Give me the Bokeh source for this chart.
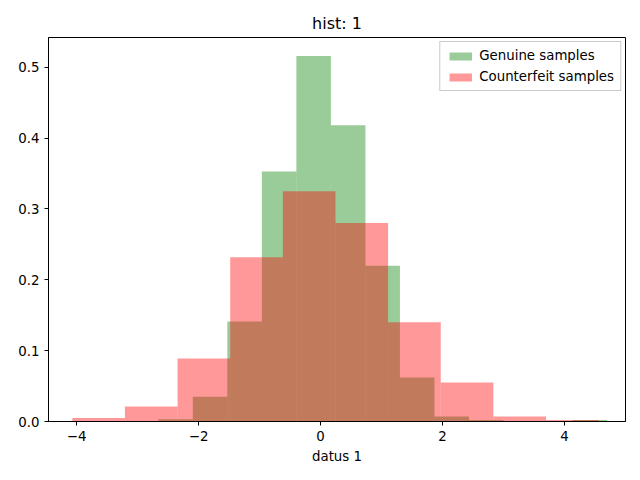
from bokeh.plotting import figure
from bokeh.embed import file_html
from bokeh.resources import INLINE
from bokeh.models import Range1d, FixedTicker, Legend, LegendItem, CustomJSTickFormatter

# Genuine samples histogram
g_start = -2.66
g_width = 0.566
g_heights = [0.003, 0.035, 0.141, 0.353, 0.516, 0.418, 0.220, 0.062, 0.007, 0.002, 0.0, 0.0, 0.002]
# Counterfeit samples histogram
c_start = -4.07
c_width = 0.863
c_heights = [0.005, 0.021, 0.089, 0.232, 0.325, 0.280, 0.140, 0.055, 0.007, 0.002]

g_left = [g_start + i * g_width for i in range(len(g_heights))]
g_right = [l + g_width for l in g_left]
c_left = [c_start + i * c_width for i in range(len(c_heights))]
c_right = [l + c_width for l in c_left]

p = figure(width=632, height=472, output_backend="svg", toolbar_location=None,
           x_range=Range1d(-4.46, 5.0), y_range=Range1d(0, 0.542),
           min_border_left=48, min_border_right=7, min_border_top=37, min_border_bottom=51,
           title="hist: 1")
p.title.align = "center"
p.title.text_font = "DejaVu Sans"
p.title.text_font_size = "12pt"
p.title.text_font_style = "normal"
p.title.text_color = "black"

rg = p.quad(left=g_left, right=g_right, bottom=0, top=g_heights,
            fill_color="#008000", fill_alpha=0.4, line_color=None)
rc = p.quad(left=c_left, right=c_right, bottom=0, top=c_heights,
            fill_color="#ff0000", fill_alpha=0.4, line_color=None)

p.xgrid.visible = False
p.ygrid.visible = False
p.outline_line_color = "black"
p.outline_line_width = 1
p.outline_line_alpha = 1
p.xaxis.ticker = FixedTicker(ticks=[-4, -2, 0, 2, 4])
p.yaxis.ticker = FixedTicker(ticks=[0.0, 0.1, 0.2, 0.3, 0.4, 0.5])
p.yaxis.formatter = CustomJSTickFormatter(code="return tick.toFixed(1);")
p.xaxis.formatter = CustomJSTickFormatter(code="return tick.toString().replace('-', '\u2212');")
p.xaxis.axis_label = "datus 1"
for ax in (p.xaxis, p.yaxis):
    ax.axis_label_text_font = "DejaVu Sans"
    ax.axis_label_text_font_style = "normal"
    ax.axis_label_text_font_size = "10pt"
    ax.axis_label_text_color = "black"
    ax.major_label_text_font = "DejaVu Sans"
    ax.major_label_text_font_size = "10pt"
    ax.major_label_text_color = "black"
    ax.minor_tick_line_color = None
    ax.major_tick_in = 0
    ax.major_tick_out = 4
    ax.major_tick_line_color = "black"
    ax.axis_line_color = "black"

legend = Legend(items=[LegendItem(label="Genuine samples", renderers=[rg]),
                       LegendItem(label="Counterfeit samples", renderers=[rc])],
                location="top_right", label_text_font="DejaVu Sans", label_text_font_size="10pt",
                label_text_color="black",
                border_line_color="#cccccc", border_line_alpha=1, background_fill_alpha=0.8,
                glyph_width=28, glyph_height=10, spacing=6, padding=6, margin=4, label_height=14)
p.add_layout(legend)

open("out.html", "w").write(file_html(p, INLINE))
